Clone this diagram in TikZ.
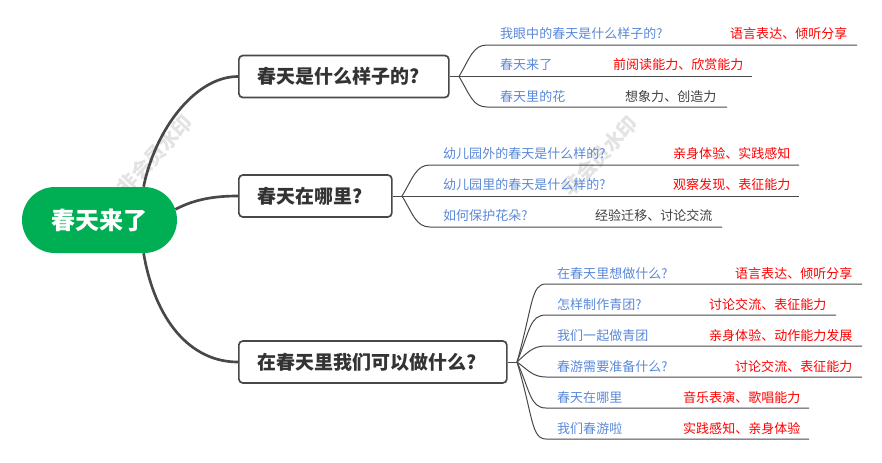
\documentclass[tikz,border=0pt]{standalone}
\usepackage{fontspec}
\setmainfont{Noto Sans CJK SC}
\usetikzlibrary{shapes.misc}
\definecolor{askblue}{HTML}{5A88D8}
\definecolor{rootgreen}{HTML}{00AE53}
\definecolor{linegray}{HTML}{484848}

\begin{document}
\begin{tikzpicture}[x=0.03cm,y=-0.03cm,
    topic/.style={draw=linegray,line width=0.05cm,rounded corners=0.12cm,fill=white,inner xsep=0.57cm,inner ysep=0pt,minimum height=1.26cm,align=left,anchor=west,text=black!80,font=\fontsize{16.2pt}{19pt}\bfseries},
    ask/.style={anchor=west,inner sep=0pt,yshift=-0.03cm,text=askblue,font=\fontsize{11.1pt}{13pt}\selectfont},
    skill/.style={anchor=west,inner sep=0pt,yshift=-0.03cm,text=red,font=\fontsize{11.1pt}{13pt}\selectfont},
    plain/.style={anchor=west,inner sep=0pt,yshift=-0.03cm,text=black!75,font=\fontsize{11.1pt}{13pt}\selectfont},
    mainline/.style={draw=linegray,line width=0.08cm},
    subline/.style={draw=linegray,line width=0.03cm},
    mark text/.style={text=black!11,rotate=47,font=\fontsize{17pt}{20pt}\bfseries}]
            \useasboundingbox (0,0) rectangle (882,462);
            \node[mark text] (W1) at (155,155) {非会员水印};
            \node[mark text] (W2) at (600,156) {非会员水印};

            \node[rounded rectangle,fill=rootgreen,minimum width=4.65cm,minimum height=1.98cm,inner sep=0pt,text=white,font=\fontsize{20.5pt}{24pt}\bfseries] (root) at (99.5,220) {春天来了};

            \node[topic,text width=5.16cm] (T1) at (238,76.5) {春天是什么样子的?};
            \node[topic,text width=3.45cm] (T2) at (238,196) {春天在哪里?};
            \node[topic,text width=6.9cm] (T3) at (238,362) {在春天里我们可以做什么?};

            \draw[mainline] (root.37) .. controls (155,130) and (195,76.5) .. (T1.west);
            \draw[mainline] (root.8) .. controls (195,199) and (215,196) .. (T2.west);
            \draw[mainline] (root.-37) .. controls (155,320) and (190,362) .. (T3.west);

            % first group
            \coordinate (H1) at (459,76.5);
            \coordinate (A1) at (857,45);
            \coordinate (A2) at (752,76.5);
            \coordinate (A3) at (727,107);
            \draw[subline] (T1.east) -- (H1);
            \draw[subline] (H1) .. controls (470,58) and (473,45) .. (487,45) -- (A1);
            \draw[subline] (H1) -- (A2);
            \draw[subline] (H1) .. controls (470,95) and (473,107) .. (487,107) -- (A3);
            \node[ask] (q11) at (500,33) {我眼中的春天是什么样子的?};
            \node[skill] (s11) at (730,33) {语言表达、倾听分享};
            \node[ask] (q12) at (500,64) {春天来了};
            \node[skill] (s12) at (613,64) {前阅读能力、欣赏能力};
            \node[ask] (q13) at (500,96) {春天里的花};
            \node[plain] (s13) at (625,96) {想象力、创造力};

            % second group
            \coordinate (H2) at (402,196);
            \coordinate (B1) at (799,165);
            \coordinate (B2) at (799,196);
            \coordinate (B3) at (722,227);
            \draw[subline] (T2.east) -- (H2);
            \draw[subline] (H2) .. controls (413,178) and (416,165) .. (430,165) -- (B1);
            \draw[subline] (H2) -- (B2);
            \draw[subline] (H2) .. controls (413,214) and (416,227) .. (430,227) -- (B3);
            \node[ask] (q21) at (443,153) {幼儿园外的春天是什么样的?};
            \node[skill] (s21) at (673,153) {亲身体验、实践感知};
            \node[ask] (q22) at (443,184) {幼儿园里的春天是什么样的?};
            \node[skill] (s22) at (673,184) {观察发现、表征能力};
            \node[ask] (q23) at (443,215) {如何保护花朵?};
            \node[plain] (s23) at (595,215) {经验迁移、讨论交流};

            % third group
            \coordinate (H3) at (517,362);
            \coordinate (C1) at (862,284);
            \coordinate (C2) at (836,315);
            \coordinate (C3) at (862,346);
            \coordinate (C4) at (862,377);
            \coordinate (C5) at (809,408);
            \coordinate (C6) at (809,439);
            \draw[subline] (T3.east) -- (H3);
            \draw[subline] (H3) .. controls (533,305) and (531,284) .. (546,284) -- (C1);
            \draw[subline] (H3) .. controls (530,330) and (530,315) .. (546,315) -- (C2);
            \draw[subline] (H3) .. controls (528,352) and (533,346) .. (546,346) -- (C3);
            \draw[subline] (H3) .. controls (528,370) and (533,377) .. (546,377) -- (C4);
            \draw[subline] (H3) .. controls (530,390) and (530,408) .. (546,408) -- (C5);
            \draw[subline] (H3) .. controls (533,415) and (531,439) .. (546,439) -- (C6);
            \node[ask] (q31) at (557,273) {在春天里想做什么?};
            \node[skill] (s31) at (735,273) {语言表达、倾听分享};
            \node[ask] (q32) at (557,304) {怎样制作青团?};
            \node[skill] (s32) at (709,304) {讨论交流、表征能力};
            \node[ask] (q33) at (557,335) {我们一起做青团};
            \node[skill] (s33) at (709,335) {亲身体验、动作能力发展};
            \node[ask] (q34) at (557,366) {春游需要准备什么?};
            \node[skill] (s34) at (735,366) {讨论交流、表征能力};
            \node[ask] (q35) at (557,397) {春天在哪里};
            \node[skill] (s35) at (683,397) {音乐表演、歌唱能力};
            \node[ask] (q36) at (557,428) {我们春游啦};
            \node[skill] (s36) at (683,428) {实践感知、亲身体验};
        \end{tikzpicture}
\end{document}
